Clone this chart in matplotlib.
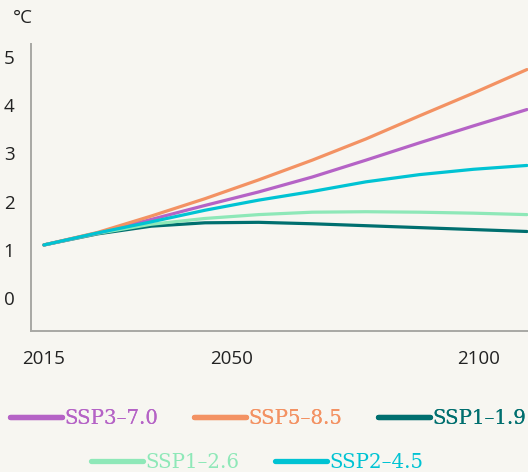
import matplotlib.pyplot as plt
from matplotlib.lines import Line2D

# temperature projections (deg C)
years = [2015, 2025, 2035, 2045, 2055, 2065, 2075, 2085, 2095, 2105]
ssp119 = [1.10, 1.33, 1.49, 1.56, 1.57, 1.54, 1.50, 1.46, 1.42, 1.38]
ssp126 = [1.10, 1.34, 1.53, 1.65, 1.73, 1.78, 1.79, 1.78, 1.76, 1.73]
ssp245 = [1.10, 1.35, 1.58, 1.82, 2.03, 2.21, 2.41, 2.56, 2.67, 2.75]
ssp370 = [1.10, 1.35, 1.63, 1.92, 2.20, 2.51, 2.86, 3.22, 3.57, 3.91]
ssp585 = [1.10, 1.36, 1.70, 2.06, 2.45, 2.86, 3.30, 3.78, 4.25, 4.74]

xticks = [2015, 2050, 2100]
yticks = [0, 1, 2, 3, 4, 5]

colors = {
    "SSP3\u20137.0": "#b563c6",
    "SSP5\u20138.5": "#f39263",
    "SSP1\u20131.9": "#006f6f",
    "SSP1\u20132.6": "#8ee8b8",
    "SSP2\u20134.5": "#00c3d3",
}
bg = "#f7f6f1"

fig = plt.figure(figsize=(5.28, 4.72), dpi=100, facecolor=bg)
ax = fig.add_axes([31/528, 1-331/472, 497/528, 287/472], facecolor=bg)

series = [("SSP1\u20131.9", ssp119), ("SSP1\u20132.6", ssp126),
          ("SSP3\u20137.0", ssp370), ("SSP5\u20138.5", ssp585),
          ("SSP2\u20134.5", ssp245)]
for name, vals in series:
    ax.plot(years, vals, color=colors[name], lw=2.3, solid_capstyle="round")

ax.set_xlim(2012.6, 2105.2)
ax.set_ylim(-0.685, 5.27)
ax.set_xticks(xticks)
ax.set_xticklabels([str(v) for v in xticks])
ax.set_yticks(yticks)
for s in ["top", "right"]:
    ax.spines[s].set_visible(False)
for s in ["left", "bottom"]:
    ax.spines[s].set_color("#a8a8a4")
    ax.spines[s].set_linewidth(1.4)
ax.tick_params(length=0, labelsize=13.5, labelcolor="#222222")
ax.tick_params(axis="y", pad=12)
ax.tick_params(axis="x", pad=14)
for lab in ax.get_xticklabels() + ax.get_yticklabels():
    lab.set_fontfamily("Open Sans")
ax.get_xticklabels()[-1].set_ha("right")

fig.text(13/528, 1-18/472, "\u00b0C", fontsize=13.5, family="Open Sans",
         color="#222222", va="center", ha="left")

def make_legend(names, cx, cy):
    handles = [Line2D([], [], color=colors[n], lw=3.8, solid_capstyle="round") for n in names]
    leg = fig.legend(handles, names, loc="center", bbox_to_anchor=(cx, cy), ncol=len(names),
                     frameon=False, handlelength=2.6, handletextpad=0.12, columnspacing=1.85,
                     prop={"family": "DejaVu Serif", "size": 14.2}, labelcolor="linecolor",
                     borderpad=0, borderaxespad=0)
    return leg

leg1 = make_legend(["SSP3\u20137.0", "SSP5\u20138.5", "SSP1\u20131.9"], 0.508, 1-418/472)
fig.add_artist(leg1)
make_legend(["SSP1\u20132.6", "SSP2\u20134.5"], 0.487, 1-462/472)

fig.savefig("out.png", dpi=100, facecolor=bg)
